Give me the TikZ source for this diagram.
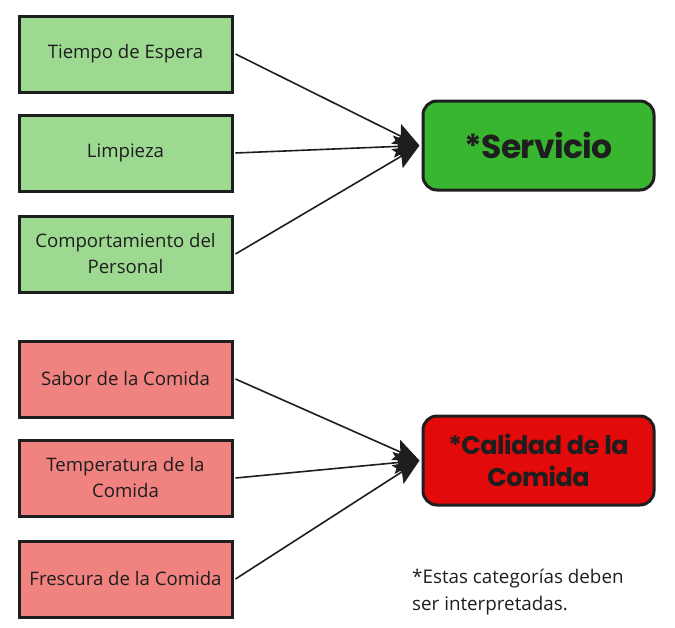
\documentclass[tikz,border=0pt]{standalone}
\usepackage{fontspec}
\setmainfont{Open Sans}
\newfontfamily\titlefont[LetterSpace=-2]{Poppins}
\usetikzlibrary{arrows.meta}
\definecolor{lgreen}{RGB}{158,217,146}
\definecolor{lred}{RGB}{240,130,128}
\definecolor{dgreen}{RGB}{56,182,48}
\definecolor{dred}{RGB}{226,10,10}
\definecolor{ink}{RGB}{30,30,30}
\tikzset{
  leafbox/.style={draw=ink, line width=3pt, minimum width=213pt, minimum height=76pt, align=center, font=\fontsize{18.6}{26}\selectfont, text=ink, inner sep=2pt},
  headbox/.style={draw=ink, line width=3pt, rounded corners=14pt, minimum width=231pt, minimum height=89pt, align=center, text=ink},
  link/.style={draw=ink, line width=1.6pt, -{Stealth[length=26pt,width=22pt,inset=5pt]}}
}
\begin{document}
\begin{tikzpicture}[x=1pt,y=-1pt]
\useasboundingbox (0,0) rectangle (675,627);
\node[leafbox, fill=lgreen] (t) at (125.5,54) {Tiempo de Espera};
\node[leafbox, fill=lgreen] (l) at (125.5,153) {Limpieza};
\node[leafbox, fill=lgreen] (c) at (125.5,254) {Comportamiento del\\Personal};
\node[leafbox, fill=lred] (s) at (125.5,379) {Sabor de la Comida};
\node[leafbox, fill=lred] (te) at (125.5,478) {Temperatura de la\\Comida};
\node[leafbox, fill=lred] (f) at (125.5,579) {Frescura de la Comida};
\node[headbox, fill=dgreen, font=\titlefont\bfseries\fontsize{33}{36}\selectfont] (sv) at (538.5,145.5) {*Servicio};
\node[headbox, fill=dred, font=\titlefont\bfseries\fontsize{25.5}{32}\selectfont] (cd) at (538.5,460.5) {*Calidad de la\\Comida};
\node[anchor=north west, align=left, font=\fontsize{18.8}{27}\selectfont, text=ink, inner sep=0pt] (note) at (412,569) {*Estas categorías deben\\ser interpretadas.};
\foreach \a in {t,l,c} \draw[link] ([xshift=2pt]\a.east) -- ([xshift=-2pt]sv.west);
\foreach \a in {s,te,f} \draw[link] ([xshift=2pt]\a.east) -- ([xshift=-2pt]cd.west);
\end{tikzpicture}
\end{document}
